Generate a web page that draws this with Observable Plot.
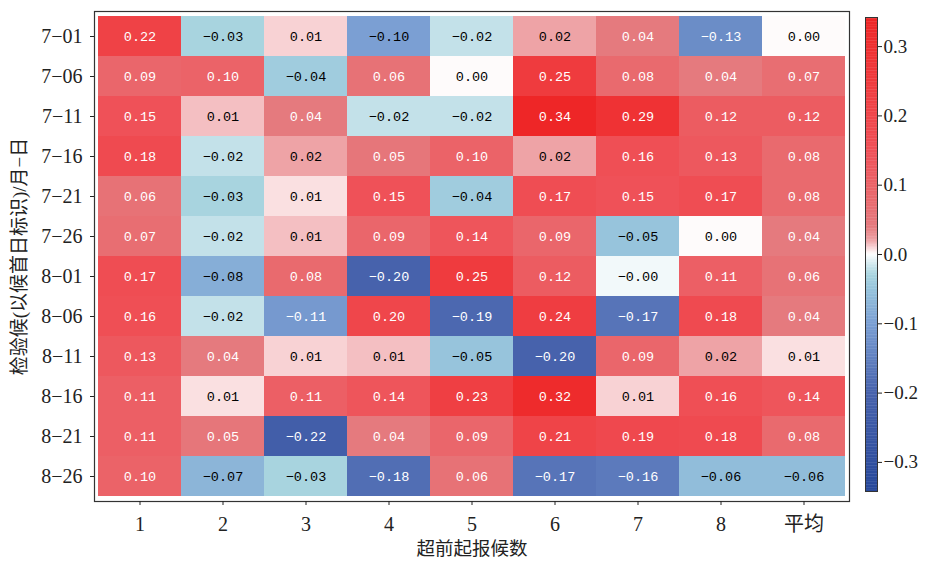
<!DOCTYPE html>
<html>
<head>
<meta charset="utf-8">
<script src="https://cdn.jsdelivr.net/npm/d3@7"></script>
<script src="https://cdn.jsdelivr.net/npm/@observablehq/plot@0.6"></script>
<style>
  html, body { margin: 0; padding: 0; background: #fff; }
  #wrap { position: relative; width: 925px; height: 562px; }
  #wrap > svg, #wrap > figure { position: absolute; top: 0; margin: 0; }
</style>
</head>
<body>
<div id="wrap"></div>
<script>
// ---- data ----
const rows = ["7−01","7−06","7−11","7−16","7−21","7−26","8−01","8−06","8−11","8−16","8−21","8−26"];
const cols = ["1","2","3","4","5","6","7","8","平均"];
const v_7_01 = [0.22, -0.03, 0.010, -0.10, -0.02, 0.02, 0.04, -0.13, 0.001];
const v_7_06 = [0.09, 0.10, -0.04, 0.06, 0.001, 0.25, 0.08, 0.04, 0.07];
const v_7_11 = [0.15, 0.014, 0.04, -0.02, -0.02, 0.34, 0.29, 0.12, 0.12];
const v_7_16 = [0.18, -0.02, 0.02, 0.05, 0.10, 0.02, 0.16, 0.13, 0.08];
const v_7_21 = [0.06, -0.03, 0.007, 0.15, -0.04, 0.17, 0.15, 0.17, 0.08];
const v_7_26 = [0.07, -0.02, 0.014, 0.09, 0.14, 0.09, -0.05, 0.001, 0.04];
const v_8_01 = [0.17, -0.08, 0.08, -0.20, 0.25, 0.12, -0.004, 0.11, 0.06];
const v_8_06 = [0.16, -0.02, -0.11, 0.20, -0.19, 0.24, -0.17, 0.18, 0.04];
const v_8_11 = [0.13, 0.04, 0.010, 0.014, -0.05, -0.20, 0.09, 0.02, 0.007];
const v_8_16 = [0.11, 0.007, 0.11, 0.14, 0.23, 0.32, 0.010, 0.16, 0.14];
const v_8_21 = [0.11, 0.05, -0.22, 0.04, 0.09, 0.21, 0.19, 0.18, 0.08];
const v_8_26 = [0.10, -0.07, -0.03, -0.18, 0.06, -0.17, -0.16, -0.06, -0.06];
const values = [v_7_01, v_7_06, v_7_11, v_7_16, v_7_21, v_7_26, v_8_01, v_8_06, v_8_11, v_8_16, v_8_21, v_8_26];
const cbarTicks = [-0.3, -0.2, -0.1, 0.0, 0.1, 0.2, 0.3];
const xTitle = "超前起报候数";
const yTitle = "检验候(以候首日标识)/月−日";

const table = [];
rows.forEach((r, i) => cols.forEach((c, j) => table.push({row: r, col: c, v: values[i][j]})));

// ---- colour scale ----
const vmax = 0.342;
const colorScale = {
  type: "linear",
  domain: [-vmax, -0.2, -0.1, -0.05, -0.03, -0.015, 0, 0.01, 0.02, 0.04, 0.08, 0.15, 0.25, vmax],
  range: ["#27489a", "#4762ac", "#7b9fd3", "#97c4dc", "#a8d4df", "#d0e8ee", "#ffffff",
          "#f8d2d4", "#eea3a6", "#e57a7e", "#e96a6e", "#ef5158", "#ef3b3e", "#ee2626"],
  interpolate: "rgb",
  clamp: true
};

const fmt = v => (v < 0 ? "−" : "") + Math.abs(v).toFixed(2);
const serif = "'Liberation Serif', 'Times New Roman', 'Noto Sans CJK SC', serif";

const main = Plot.plot({
  width: 925,
  height: 562,
  marginLeft: 94,
  marginRight: 76,
  marginTop: 11,
  marginBottom: 61,
  style: {fontFamily: serif, fontSize: "20px", color: "#222", background: "transparent"},
  x: {type: "band", domain: cols, padding: 0},
  y: {type: "band", domain: rows, padding: 0},
  color: colorScale,
  marks: [
    Plot.cell(table, {x: "col", y: "row", fill: "v", inset: 0}),
    Plot.text(table, {
      x: "col", y: "row", text: d => fmt(d.v),
      fill: d => (d.v >= 0.03 || d.v <= -0.105) ? "#ffffff" : "#000000",
      fontFamily: "'Liberation Mono', 'DejaVu Sans Mono', monospace", fontSize: 13.5,
      style: "letter-spacing:-0.7px"
    }),
    Plot.frame({stroke: "#333", strokeWidth: 1.2}),
    Plot.axisX({tickSize: 4, tickPadding: 11, fontSize: 20, label: null}),
    Plot.axisY({tickSize: 4, tickPadding: 8, fontSize: 20, label: null}),
    Plot.text([xTitle], {frameAnchor: "bottom", lineAnchor: "middle", textAnchor: "middle", dy: 48, text: d => d, fontSize: 18.5, fill: "#222"}),
    Plot.text([yTitle], {frameAnchor: "left", lineAnchor: "middle", textAnchor: "middle", dx: -75, rotate: -90, text: d => d, fontSize: 19, fill: "#222"})
  ]
});

const steps = d3.range(-vmax, vmax, vmax / 150);
const cbar = Plot.plot({
  width: 60,
  height: 562,
  marginLeft: 0,
  marginRight: 48,
  marginTop: 17,
  marginBottom: 71,
  style: {fontFamily: serif, fontSize: "19px", color: "#222", background: "transparent"},
  x: {domain: [0, 1], axis: null},
  y: {domain: [-vmax, vmax], axis: null},
  color: colorScale,
  marks: [
    Plot.rect(steps, {x1: () => 0, x2: () => 1, y1: d => d, y2: d => Math.min(vmax, d + vmax / 150 + 0.0005), fill: d => d + vmax / 300}),
    Plot.frame({stroke: "#333", strokeWidth: 1}),
    Plot.axisY({anchor: "right", ticks: cbarTicks, tickSize: 4, tickPadding: 2, fontSize: 19,
      tickFormat: d => (d < 0 ? "−" : "") + Math.abs(d).toFixed(1), label: null})
  ]
});

const wrap = document.getElementById("wrap");
main.style.left = "0px";
cbar.style.left = "865px";
main.style.position = "absolute";
cbar.style.position = "absolute";
wrap.appendChild(main);
wrap.appendChild(cbar);
</script>
</body>
</html>
